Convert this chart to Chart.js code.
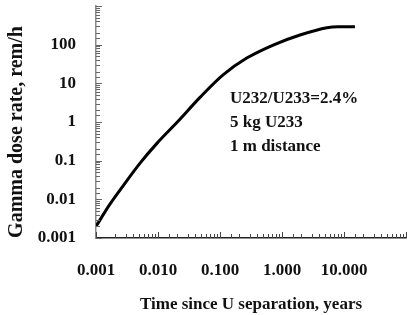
<!DOCTYPE html>
<html>
<head>
<meta charset="utf-8">
<script src="https://cdn.jsdelivr.net/npm/chart.js@4/dist/chart.umd.min.js"></script>
<style>
  html, body { margin: 0; padding: 0; background: #fff; }
  #wrap { width: 407px; height: 315px; }
</style>
</head>
<body>
<div id="wrap"><canvas id="doseChart" width="407" height="315"></canvas></div>
<script>
// values
const yearsSinceSeparation = [0.001, 0.00168, 0.00272, 0.0051, 0.0096, 0.0203, 0.048, 0.112, 0.27, 0.72, 1.95, 5.3, 8, 15];
const doseRate = [0.002, 0.0075, 0.022, 0.085, 0.28, 0.98, 4.4, 16.6, 45, 98, 178, 275, 290, 290];
const noteLines = ['U232/U233=2.4%', '5 kg U233', '1 m distance'];
const yTitle = 'Gamma dose rate, rem/h';

const serif = "'Liberation Serif', 'DejaVu Serif', serif";

const isDecade = v => Math.abs(Math.log10(v) - Math.round(Math.log10(v))) < 1e-6;

// no extra label padding, so the plot box lands where the original has it
function noPad(s) {
  s.paddingTop = 0; s.paddingBottom = 0; s.paddingLeft = 0; s.paddingRight = 0;
}

// ticks drawn inside the plot, plus the note and the y title
const extras = {
  id: 'extras',
  afterDraw(chart) {
    const ctx = chart.ctx;
    const xs = chart.scales.x, ys = chart.scales.y;
    const a = chart.chartArea;
    ctx.save();
    ctx.lineWidth = 1;
    ctx.strokeStyle = '#444';
    xs.ticks.forEach(t => {
      const px = Math.round(xs.getPixelForValue(t.value)) + 0.5;
      const len = isDecade(t.value) ? 6 : 4;
      ctx.beginPath();
      ctx.moveTo(px, a.bottom);
      ctx.lineTo(px, a.bottom - len);
      ctx.stroke();
    });
    ctx.strokeStyle = '#666';
    ys.ticks.forEach(t => {
      const py = Math.round(ys.getPixelForValue(t.value)) + 0.5;
      const len = isDecade(t.value) ? 6 : 4;
      ctx.beginPath();
      ctx.moveTo(a.left, py);
      ctx.lineTo(a.left + len, py);
      ctx.stroke();
    });
    ctx.fillStyle = '#111';
    ctx.font = "bold 17px " + serif;
    ctx.textBaseline = 'middle';
    noteLines.forEach((s, i) => ctx.fillText(s, 230, 99 + i * 24));
    // y title, a bit below the plot centre as in the original
    ctx.translate(17, 132);
    ctx.rotate(-Math.PI / 2);
    ctx.textAlign = 'center';
    ctx.font = "bold 20px " + serif;
    ctx.fillText(yTitle, 0, 0);
    ctx.restore();
  }
};

new Chart(document.getElementById('doseChart'), {
  type: 'line',
  data: {
    labels: yearsSinceSeparation,
    datasets: [{
      data: yearsSinceSeparation.map((t, i) => ({ x: t, y: doseRate[i] })),
      borderColor: '#000',
      borderWidth: 3,
      pointRadius: 0,
      cubicInterpolationMode: 'monotone',
      fill: false
    }]
  },
  options: {
    responsive: false,
    animation: false,
    layout: { padding: { top: 6, right: 1, left: 0, bottom: 0 } },
    plugins: { legend: { display: false }, tooltip: { enabled: false } },
    scales: {
      x: {
        type: 'logarithmic',
        min: 0.001,
        max: 100,
        afterFit(s) { s.height = 77; noPad(s); },
        grid: { display: false, drawTicks: false },
        border: { display: true, color: '#222', width: 1.5 },
        ticks: {
          autoSkip: false,
          maxRotation: 0,
          padding: 22,
          color: '#111',
          font: { family: serif, size: 17, weight: 'bold' },
          callback(v) { return isDecade(v) && v < 100 ? Number(v).toFixed(3) : ''; }
        },
        title: {
          display: true,
          text: 'Time since U separation, years',
          color: '#111',
          font: { family: serif, size: 17, weight: 'bold' },
          padding: { top: 12, bottom: 0 }
        }
      },
      y: {
        type: 'logarithmic',
        min: 0.001,
        max: 1000,
        afterFit(s) { s.width = 96; noPad(s); },
        grid: { display: false, drawTicks: false },
        border: { display: true, color: '#888', width: 1.5 },
        ticks: {
          autoSkip: false,
          padding: 20,
          color: '#111',
          font: { family: serif, size: 17, weight: 'bold' },
          callback(v) { return isDecade(v) && v < 1000 ? String(Number(v)) : ''; }
        }
      }
    }
  },
  plugins: [extras]
});
</script>
</body>
</html>
